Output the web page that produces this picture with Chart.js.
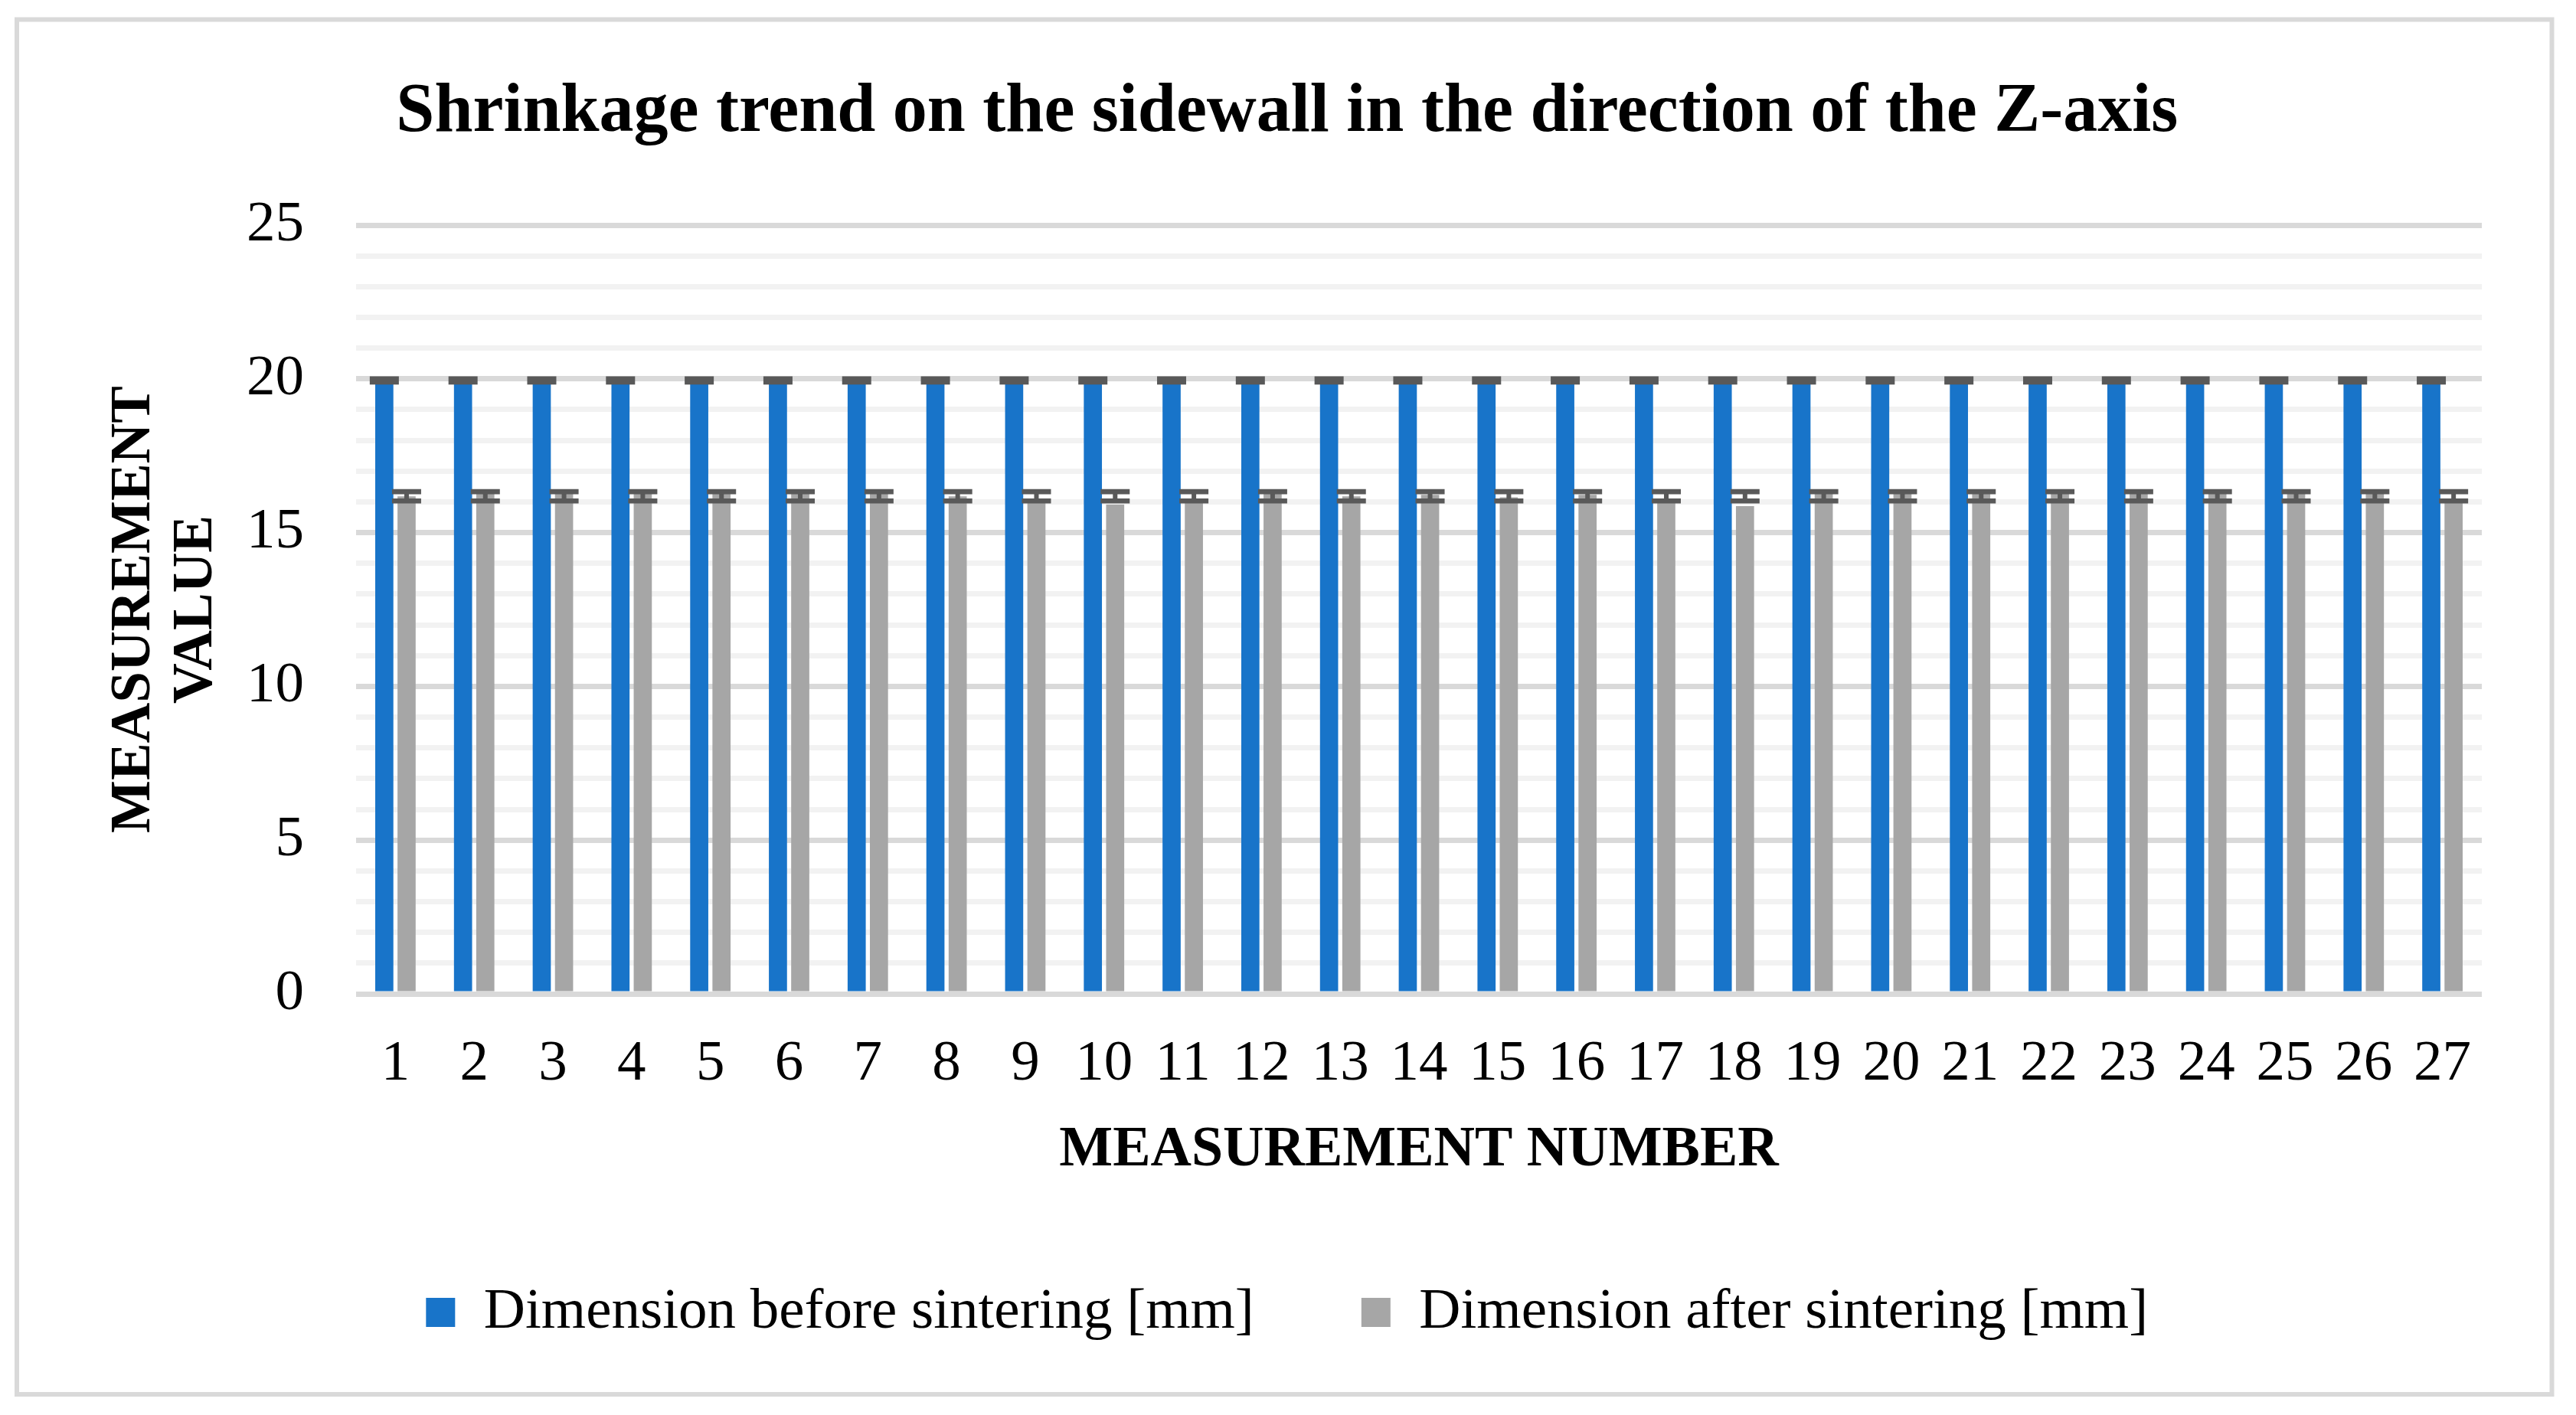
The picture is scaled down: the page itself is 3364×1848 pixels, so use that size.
<!DOCTYPE html>
<html>
<head>
<meta charset="utf-8">
<script src="https://cdn.jsdelivr.net/npm/chart.js@4.4.1/dist/chart.umd.min.js"></script>
<style>
  html, body { margin: 0; padding: 0; background: #fff; }
  #wrap { width: 3364px; height: 1848px; }
</style>
</head>
<body>
<div id="wrap"><canvas id="shrinkChart" width="3364" height="1848"></canvas></div>
<script>
var measurementLabels = ['1', '2', '3', '4', '5', '6', '7', '8', '9', '10', '11', '12', '13', '14',
    '15', '16', '17', '18', '19', '20', '21', '22', '23', '24', '25', '26', '27'];

var beforeSintering = [19.95, 19.95, 19.95, 19.95, 19.95, 19.95, 19.95, 19.95, 19.95, 19.95,
    19.95, 19.95, 19.95, 19.95, 19.95, 19.95, 19.95, 19.95, 19.95, 19.95,
    19.95, 19.95, 19.95, 19.95, 19.95, 19.95, 19.95];

var afterSintering = [16.18, 16.28, 16.28, 16.28, 16.28, 16.28, 16.28, 16.18, 16.08, 15.91,
    16.08, 16.28, 16.18, 16.23, 16.15, 16.23, 16.08, 15.86, 16.28, 16.28,
    16.28, 16.28, 16.28, 16.28, 16.28, 16.28, 16.08];

// error bars (Excel std-dev style: same range for every bar of a series)
var beforeErrorRange = [19.9, 20.0];
var afterErrorRange = [16.03, 16.33];

var yTickLabels = [0, 5, 10, 15, 20, 25];

var serif = "'Liberation Serif', 'Times New Roman', serif";

var framePlugin = {
    id: 'frame',
    beforeDraw: function (chart) {
        var ctx = chart.ctx;
        ctx.save();
        ctx.fillStyle = '#ffffff';
        ctx.fillRect(0, 0, chart.width, chart.height);
        ctx.strokeStyle = '#d9d9d9';
        ctx.lineWidth = 6;
        ctx.strokeRect(22, 25.5, 3310.5, 1795.5);
        ctx.restore();
    }
};

var errorBarPlugin = {
    id: 'errorBars',
    afterDatasetsDraw: function (chart) {
        var ctx = chart.ctx;
        var yScale = chart.scales.y;
        chart.data.datasets.forEach(function (ds, di) {
            var meta = chart.getDatasetMeta(di);
            var yLow = yScale.getPixelForValue(ds.errorRange[0]);
            var yHigh = yScale.getPixelForValue(ds.errorRange[1]);
            ctx.save();
            ctx.strokeStyle = '#595959';
            meta.data.forEach(function (bar) {
                ctx.lineWidth = 6;
                ctx.beginPath();
                ctx.moveTo(bar.x, yLow);
                ctx.lineTo(bar.x, yHigh);
                ctx.stroke();
                ctx.lineWidth = 6.7;
                ctx.beginPath();
                ctx.moveTo(bar.x - 19, yLow);
                ctx.lineTo(bar.x + 19, yLow);
                ctx.moveTo(bar.x - 19, yHigh);
                ctx.lineTo(bar.x + 19, yHigh);
                ctx.stroke();
            });
            ctx.restore();
        });
    }
};

var ctx = document.getElementById('shrinkChart').getContext('2d');

new Chart(ctx, {
    type: 'bar',
    data: {
        labels: measurementLabels,
        datasets: [{
            label: 'Dimension before sintering [mm]',
            data: beforeSintering,
            backgroundColor: '#1874c9',
            errorRange: beforeErrorRange,
            categoryPercentage: 0.566,
            barPercentage: 0.814
        }, {
            label: 'Dimension after sintering [mm]',
            data: afterSintering,
            backgroundColor: '#a6a6a6',
            errorRange: afterErrorRange,
            categoryPercentage: 0.566,
            barPercentage: 0.814
        }]
    },
    options: {
        responsive: false,
        animation: false,
        devicePixelRatio: 1,
        layout: {
            padding: { top: 0, left: 120.5, right: 123, bottom: 86.5 }
        },
        plugins: {
            title: {
                display: true,
                text: 'Shrinkage trend on the sidewall in the direction of the Z-axis',
                color: '#000',
                font: { family: serif, size: 90, weight: 'bold', lineHeight: 1.2 },
                padding: { top: 94, bottom: 92 }
            },
            legend: {
                position: 'bottom',
                labels: {
                    color: '#000',
                    font: { family: serif, size: 75 },
                    boxWidth: 38,
                    boxHeight: 38,
                    padding: 140
                }
            },
            tooltip: { enabled: false }
        },
        scales: {
            x: {
                afterFit: function (scale) { scale.height = 238.5; },
                grid: { display: false, drawTicks: false },
                border: { display: false },
                ticks: {
                    color: '#000',
                    autoSkip: false,
                    maxRotation: 0,
                    padding: 47,
                    font: { family: serif, size: 75 }
                },
                title: {
                    display: true,
                    text: 'MEASUREMENT NUMBER',
                    color: '#000',
                    font: { family: serif, size: 74, weight: 'bold', lineHeight: 1.2 },
                    padding: { top: 0, bottom: -11 }
                }
            },
            y: {
                min: 0,
                max: 25,
                afterFit: function (scale) { scale.width = 344.5; },
                border: { display: false },
                grid: {
                    drawTicks: false,
                    lineWidth: 7,
                    color: function (c) {
                        return c.tick && c.tick.value % 5 === 0 ? '#d9d9d9' : '#f2f2f2';
                    }
                },
                ticks: {
                    stepSize: 1,
                    autoSkip: false,
                    padding: 68,
                    color: '#000',
                    font: { family: serif, size: 75 },
                    callback: function (value) {
                        return yTickLabels.indexOf(value) >= 0 ? String(value) : '';
                    }
                },
                title: {
                    display: true,
                    text: ['MEASUREMENT', 'VALUE'],
                    color: '#000',
                    font: { family: serif, size: 73, weight: 'bold', lineHeight: '81px' },
                    padding: { top: 15, bottom: 0 }
                }
            }
        }
    },
    plugins: [framePlugin, errorBarPlugin]
});
</script>
</body>
</html>
